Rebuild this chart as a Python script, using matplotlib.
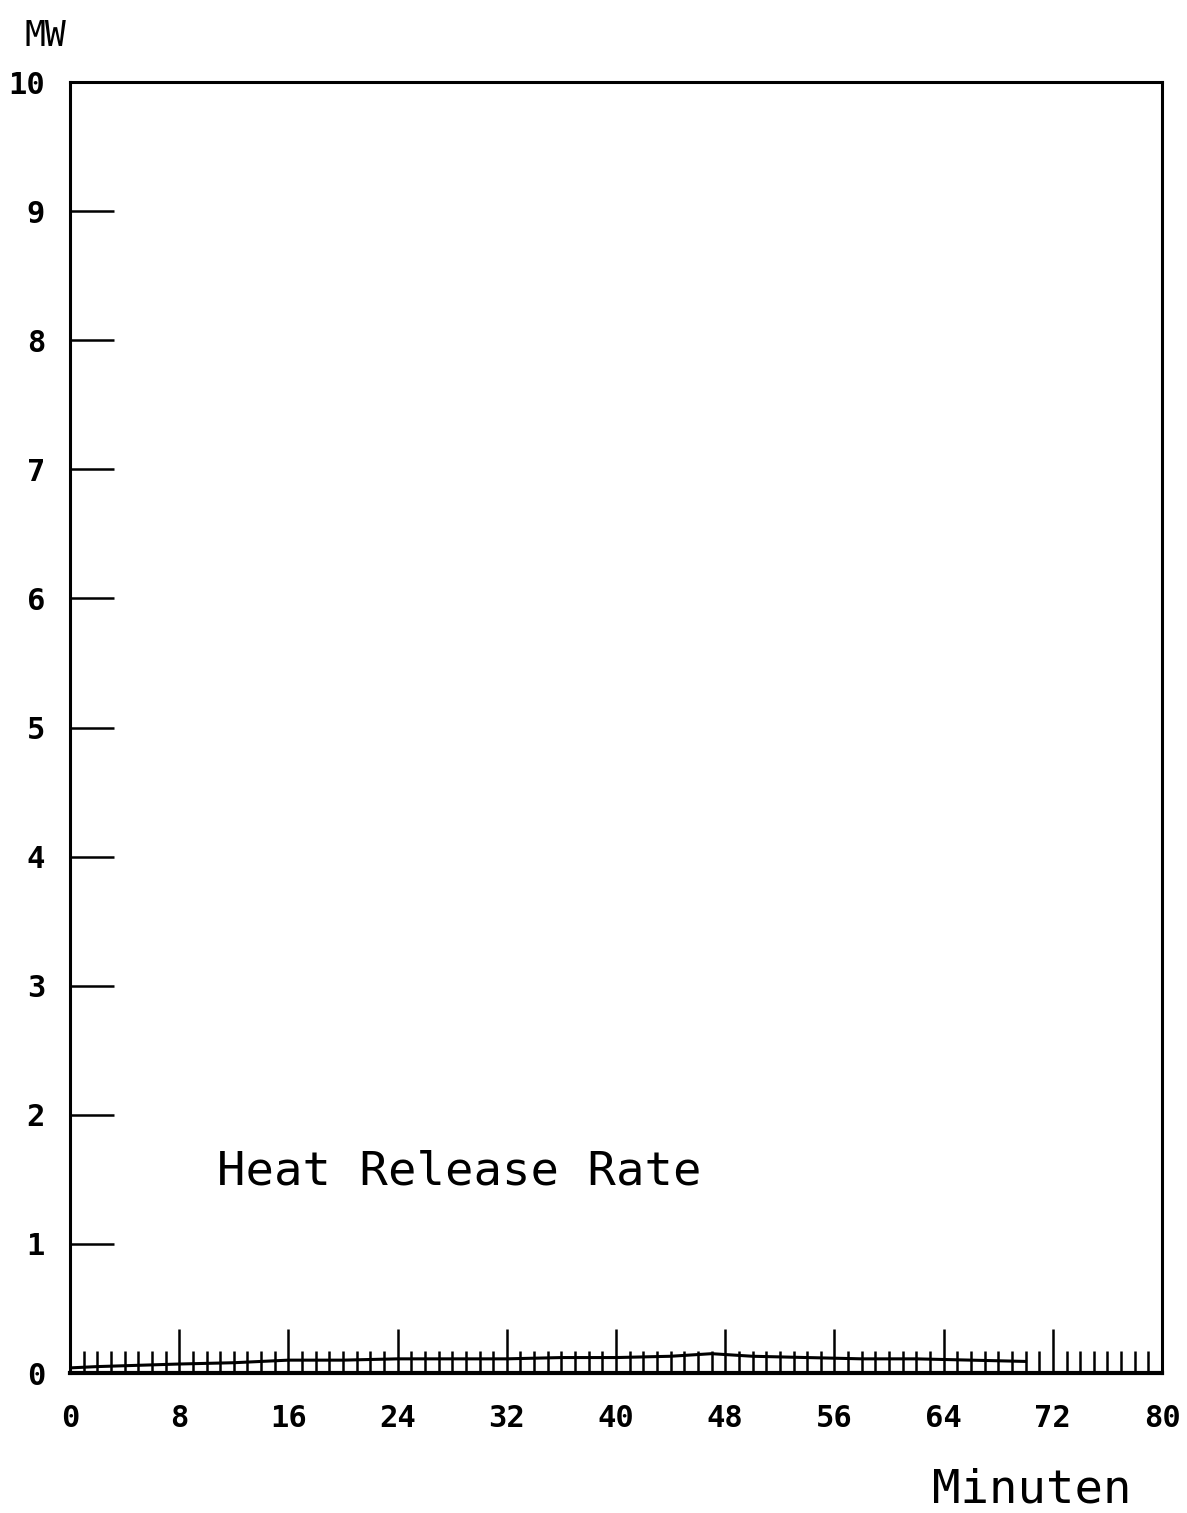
import numpy as np
import matplotlib.pyplot as plt

# Daten
zeit = [0, 2, 5, 8, 12, 16, 20, 24, 28, 32, 36, 40, 44, 47, 50, 54, 58, 62, 66, 70]
hrr = [0.04, 0.05, 0.06, 0.07, 0.08, 0.10, 0.10, 0.11, 0.11, 0.11, 0.12, 0.12, 0.13, 0.15, 0.13, 0.12, 0.11, 0.11, 0.10, 0.09]
x_ticks = [0, 8, 16, 24, 32, 40, 48, 56, 64, 72, 80]
y_ticks = [0, 1, 2, 3, 4, 5, 6, 7, 8, 9, 10]

fig = plt.figure(figsize=(11.87, 15.13), dpi=100)
ax = fig.add_axes([0.059, 0.0925, 0.92, 0.8533])

ax.plot(zeit, hrr, color="black", lw=2.2)

ax.set_xlim(0, 80)
ax.set_ylim(0, 10)

# Skalenstriche innen
ax.set_xticks(x_ticks)
ax.set_yticks(y_ticks)
ax.set_xticks(np.arange(0, 81, 1), minor=True)
ax.tick_params(axis="x", which="major", direction="in", length=32, width=1.8, pad=22)
ax.tick_params(axis="x", which="minor", direction="in", length=16, width=1.8)
ax.tick_params(axis="y", which="major", direction="in", length=32, width=1.8, pad=18)
ax.tick_params(axis="both", labelsize=22)

for lab in ax.get_xticklabels() + ax.get_yticklabels():
    lab.set_fontfamily("DejaVu Sans Mono")
    lab.set_fontweight("bold")

for s in ax.spines.values():
    s.set_linewidth(2.2)
ax.spines["bottom"].set_linewidth(3)

fig.text(0.038, 0.976, "MW", fontsize=25, family="DejaVu Sans Mono", ha="center", va="center")
ax.text(10.8, 1.56, "Heat Release Rate", fontsize=34, family="DejaVu Sans Mono", ha="left", va="center")
fig.text(0.869, 0.015, "Minuten", fontsize=34, family="DejaVu Sans Mono", ha="center", va="center")

plt.savefig("out.png", dpi=100)
